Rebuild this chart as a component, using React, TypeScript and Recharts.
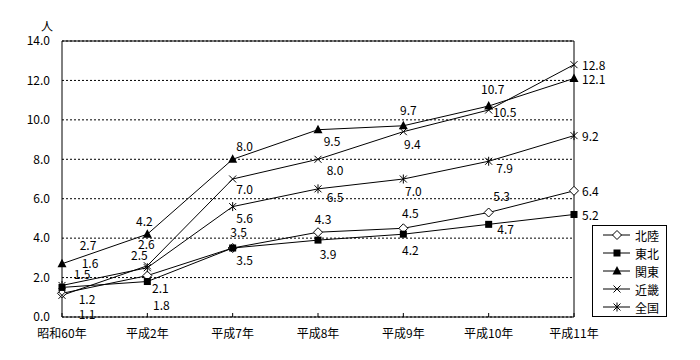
import {
  CartesianGrid,
  LabelList,
  Legend,
  Line,
  LineChart,
  ReferenceLine,
  XAxis,
  YAxis,
} from "recharts";

const years = ["昭和60年", "平成2年", "平成7年", "平成8年", "平成9年", "平成10年", "平成11年"];
const hokuriku = [1.2, 2.1, 3.5, 4.3, 4.5, 5.3, 6.4];
const tohoku = [1.5, 1.8, 3.5, 3.9, 4.2, 4.7, 5.2];
const kanto = [2.7, 4.2, 8.0, 9.5, 9.7, 10.7, 12.1];
const kinki = [1.1, 2.6, 7.0, 8.0, 9.4, 10.5, 12.8];
const zenkoku = [1.6, 2.5, 5.6, 6.5, 7.0, 7.9, 9.2];
const yTicks = [0, 2, 4, 6, 8, 10, 12, 14];

const data = years.map((year, i) => ({
  year,
  hokuriku: hokuriku[i],
  tohoku: tohoku[i],
  kanto: kanto[i],
  kinki: kinki[i],
  zenkoku: zenkoku[i],
}));

// where each value label sits relative to its point (last point is always to the right)
const labelOffsets: Record<string, number[][]> = {
  hokuriku: [[25, 5], [13, 12], [6, -17], [5, -14], [7, -16], [13, -17]],
  tohoku: [[20, -14], [14, 23], [12, 11], [10, 13], [7, 15], [17, 4]],
  kanto: [[26, -19], [-3, -14], [12, -14], [14, 11], [5, -16], [4, -18]],
  kinki: [[25, 18], [-1, -22], [12, 9], [17, 10], [9, 12], [16, 1]],
  zenkoku: [[28, -23], [-8, -13], [12, 11], [17, 8], [10, 11], [16, 6]],
};

const series = [
  { key: "hokuriku", name: "北陸", shape: "diamond" },
  { key: "tohoku", name: "東北", shape: "square" },
  { key: "kanto", name: "関東", shape: "triangle" },
  { key: "kinki", name: "近畿", shape: "cross" },
  { key: "zenkoku", name: "全国", shape: "star" },
];

const FONT = '"Noto Sans CJK JP", sans-serif';

function Marker({ cx, cy, shape }: { cx: number; cy: number; shape: string }) {
  if (cx == null || cy == null) return null;
  switch (shape) {
    case "diamond":
      return (
        <polygon
          points={`${cx},${cy - 4.5} ${cx + 4.5},${cy} ${cx},${cy + 4.5} ${cx - 4.5},${cy}`}
          fill="#fff"
          stroke="#000"
        />
      );
    case "square":
      return <rect x={cx - 3.5} y={cy - 3.5} width={7} height={7} fill="#000" />;
    case "triangle":
      return (
        <polygon
          points={`${cx},${cy - 5} ${cx - 4.5},${cy + 3.5} ${cx + 4.5},${cy + 3.5}`}
          fill="#000"
        />
      );
    case "cross":
      return (
        <g stroke="#000">
          <line x1={cx - 3.5} y1={cy - 3.5} x2={cx + 3.5} y2={cy + 3.5} />
          <line x1={cx - 3.5} y1={cy + 3.5} x2={cx + 3.5} y2={cy - 3.5} />
        </g>
      );
    default:
      return (
        <g stroke="#000">
          <line x1={cx - 3.5} y1={cy - 3.5} x2={cx + 3.5} y2={cy + 3.5} />
          <line x1={cx - 3.5} y1={cy + 3.5} x2={cx + 3.5} y2={cy - 3.5} />
          <line x1={cx} y1={cy - 4.5} x2={cx} y2={cy + 4.5} />
        </g>
      );
  }
}

const makeDot = (shape: string) => (props: any) => (
  <Marker key={`${shape}-${props.index}`} cx={props.cx} cy={props.cy} shape={shape} />
);

const makeLabel = (offsets: number[][]) => (props: any) => {
  const { x, y, value, index } = props;
  const last = index === years.length - 1;
  const [dx, dy] = last ? [8, 0] : offsets[index];
  return (
    <text
      x={x + dx}
      y={y + dy}
      textAnchor={last ? "start" : "middle"}
      dominantBaseline="central"
      fontSize={12}
      fontFamily={FONT}
      fill="#000"
    >
      {Number(value).toFixed(1)}
    </text>
  );
};

const renderLegend = () => (
  <div style={{ width: 73, height: 90, border: "1px solid #000", background: "#fff" }}>
    <svg width={73} height={90}>
      {series.map((s, i) => {
        const y = 9 + i * 18;
        return (
          <g key={s.key}>
            <line x1={10} x2={37} y1={y} y2={y} stroke="#000" />
            <Marker cx={24} cy={y} shape={s.shape} />
            <text x={42} y={y} dominantBaseline="central" fontSize={12} fontFamily={FONT} fill="#000">
              {s.name}
            </text>
          </g>
        );
      })}
    </svg>
  </div>
);

export default function App() {
  return (
    <div
      style={{
        position: "absolute",
        left: 0,
        top: 0,
        width: 700,
        height: 360,
        background: "#fff",
        fontFamily: FONT,
      }}
    >
      <LineChart width={700} height={360} data={data} margin={{ top: 41, right: 126, left: 0, bottom: 0 }}>
        <CartesianGrid vertical={false} stroke="#000" strokeDasharray="2 2" />
        <XAxis
          dataKey="year"
          height={43}
          tickSize={-4}
          tickMargin={16}
          tick={{ fill: "#000", fontSize: 12 }}
          axisLine={{ stroke: "#000" }}
          tickLine={{ stroke: "#000" }}
          interval={0}
        />
        <YAxis
          width={62}
          domain={[0, 14]}
          ticks={yTicks}
          tickFormatter={(v) => Number(v).toFixed(1)}
          tick={{ fill: "#000", fontSize: 12 }}
          tickLine={false}
          tickSize={4}
          tickMargin={8}
          axisLine={{ stroke: "#000" }}
          label={{
            value: "人",
            content: ({ viewBox }: any) => (
              <text
                x={viewBox.x + viewBox.width - 15}
                y={viewBox.y - 16}
                textAnchor="middle"
                dominantBaseline="central"
                fontSize={12}
                fontFamily={FONT}
                fill="#000"
              >
                人
              </text>
            ),
          }}
        />
        <ReferenceLine y={14} stroke="#000" />
        <ReferenceLine x={years[years.length - 1]} stroke="#000" />
        <Legend
          content={renderLegend}
          layout="horizontal"
          verticalAlign="middle"
          align="center"
          wrapperStyle={{ left: 592, top: 225, width: 75, height: 92 }}
        />
        {series.map((s) => (
          <Line
            key={s.key}
            dataKey={s.key}
            name={s.name}
            stroke="#000"
            strokeWidth={1}
            dot={makeDot(s.shape)}
            activeDot={false}
            isAnimationActive={false}
          >
            <LabelList dataKey={s.key} content={makeLabel(labelOffsets[s.key])} />
          </Line>
        ))}
      </LineChart>
    </div>
  );
}
